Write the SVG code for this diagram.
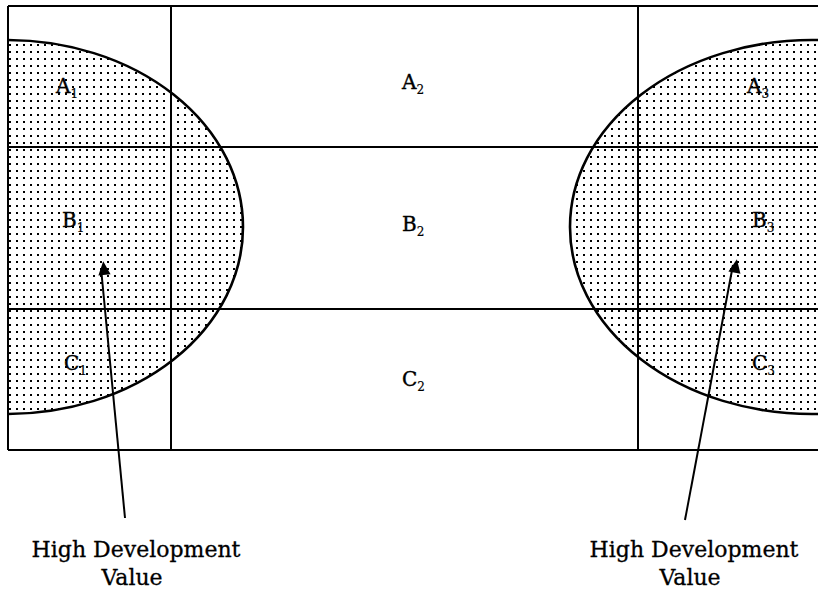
<svg xmlns="http://www.w3.org/2000/svg" width="818" height="591" viewBox="0 0 818 591">
<style>
.ln{stroke:#000;stroke-width:2;fill:none}
.el{stroke:#000;stroke-width:2.6;fill:url(#dots)}
.lb{font-family:"DejaVu Serif","Liberation Serif",serif;font-size:20px;fill:#000;stroke:#000;stroke-width:0.4}
.sb{font-size:12px;stroke-width:0.2}
.cap{font-family:"DejaVu Serif","Liberation Serif",serif;font-size:22px;fill:#000;stroke:#000;stroke-width:0.3;text-anchor:middle}
.ar{stroke:#000;stroke-width:2;fill:none}
</style>
<defs>
<pattern id="dots" patternUnits="userSpaceOnUse" width="7" height="7">
<rect x="2" y="2" width="2" height="2" fill="#000"/>
</pattern>
<clipPath id="box"><rect x="8" y="6" width="810" height="444"/></clipPath>
<marker id="ah" viewBox="0 0 10 10" refX="9" refY="5" markerWidth="8" markerHeight="8" markerUnits="userSpaceOnUse" orient="auto" style="overflow:visible">
<path d="M0,0.5 L10,5 L0,9.5 Z" fill="#000" transform="scale(1.7)"/>
</marker>
</defs>
<rect width="818" height="591" fill="#fff"/>
<g id="zones" clip-path="url(#box)">
<g id="zone-left"><ellipse class="el" cx="7" cy="227" rx="236" ry="187"/></g>
<g id="zone-right"><ellipse class="el" cx="812" cy="227" rx="242" ry="187"/></g>
</g>
<g id="grid">
<line class="ln" x1="8" y1="6" x2="818" y2="6"/>
<line class="ln" x1="8" y1="450" x2="818" y2="450"/>
<line class="ln" x1="8" y1="6" x2="8" y2="450"/>
<line class="ln" x1="171" y1="6" x2="171" y2="450"/>
<line class="ln" x1="638" y1="6" x2="638" y2="450"/>
<line class="ln" x1="8" y1="147" x2="818" y2="147"/>
<line class="ln" x1="8" y1="309" x2="818" y2="309"/>
</g>
<g id="cell-A1"><text class="lb" x="56" y="93">A<tspan class="sb" dy="5">1</tspan></text></g>
<g id="cell-A2"><text class="lb" x="402" y="89">A<tspan class="sb" dy="5">2</tspan></text></g>
<g id="cell-A3"><text class="lb" x="747" y="93">A<tspan class="sb" dy="5">3</tspan></text></g>
<g id="cell-B1"><text class="lb" x="62" y="227">B<tspan class="sb" dy="5">1</tspan></text></g>
<g id="cell-B2"><text class="lb" x="402" y="231">B<tspan class="sb" dy="5">2</tspan></text></g>
<g id="cell-B3"><text class="lb" x="752" y="227">B<tspan class="sb" dy="5">3</tspan></text></g>
<g id="cell-C1"><text class="lb" x="64" y="370">C<tspan class="sb" dy="5">1</tspan></text></g>
<g id="cell-C2"><text class="lb" x="402" y="386">C<tspan class="sb" dy="5">2</tspan></text></g>
<g id="cell-C3"><text class="lb" x="752" y="370">C<tspan class="sb" dy="5">3</tspan></text></g>
<g id="connectors">
<line class="ar" x1="125" y1="518" x2="101" y2="268" marker-end="url(#ah)"/>
<line class="ar" x1="685" y1="520" x2="733" y2="265" marker-end="url(#ah)"/>
</g>
<g id="label-left"><text class="cap" x="136" y="557">High Development</text><text class="cap" x="132" y="585">Value</text></g>
<g id="label-right"><text class="cap" x="694" y="557">High Development</text><text class="cap" x="690" y="585">Value</text></g>
</svg>
